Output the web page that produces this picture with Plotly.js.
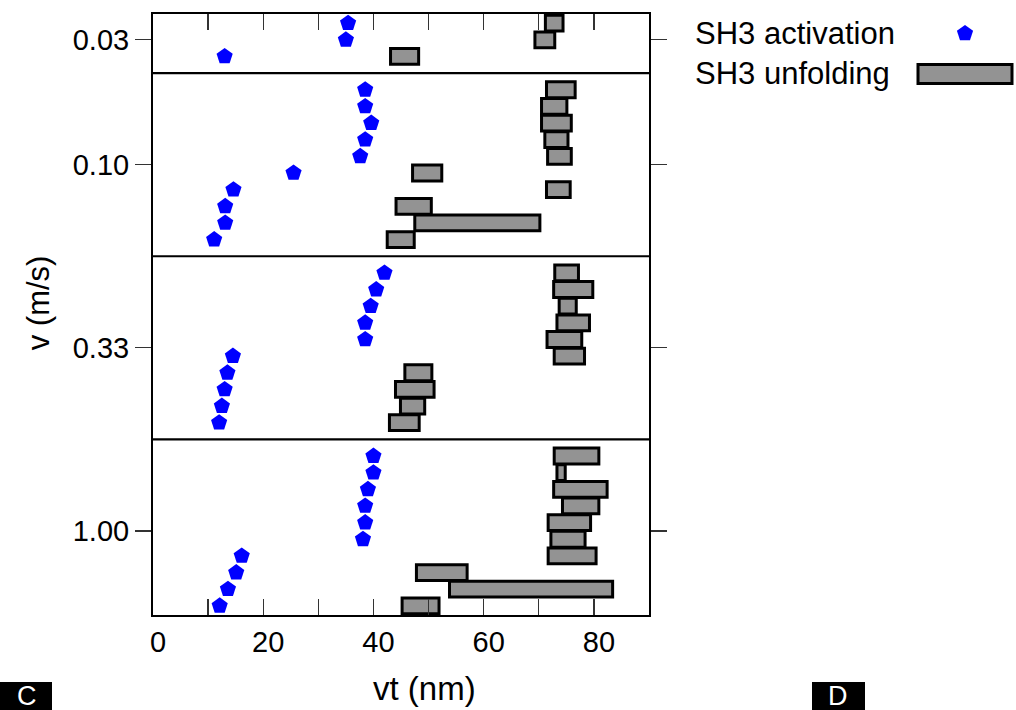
<!DOCTYPE html>
<html><head><meta charset="utf-8">
<script src="https://cdn.plot.ly/plotly-3.0.1.min.js"></script>
<style>html,body{margin:0;padding:0;background:#fff}</style>
</head><body>
<div id="chart" style="width:1016px;height:710px"></div>
<script>
// velocity groups, listed top panel to bottom panel
const velocities = ['0.03', '0.10', '0.33', '1.00'];

// SH3 activation position vt (nm), rows listed top to bottom in each panel
const act003 = [35.4, 35.0, 13.0];
const act010 = [38.5, 38.5, 39.6, 38.5, 37.6, 25.5, 14.6, 13.1, 13.1, 11.1];
const act033 = [42.0, 40.5, 39.5, 38.5, 38.5, 14.5, 13.5, 13.0, 12.5, 12.0];
const act100 = [40.0, 40.0, 39.0, 38.5, 38.5, 38.1, 16.1, 15.1, 13.6, 12.1];

// SH3 unfolding interval (start, end) in vt (nm), same row order
const unfStart003 = [71.2, 69.3, 43.1];
const unfEnd003   = [74.4, 72.9, 48.2];
const unfStart010 = [71.4, 70.5, 70.5, 71.1, 71.6, 47.1, 71.4, 44.1, 47.5, 42.5];
const unfEnd010   = [76.6, 75.1, 75.9, 75.3, 75.9, 52.4, 75.7, 50.5, 70.2, 47.4];
const unfStart033 = [72.9, 72.7, 73.7, 73.3, 71.5, 72.8, 45.7, 44.0, 44.9, 42.9];
const unfEnd033   = [77.2, 79.8, 76.8, 79.2, 77.8, 78.3, 50.6, 51.0, 49.3, 48.3];
const unfStart100 = [72.8, 73.3, 72.7, 74.3, 71.7, 72.2, 71.7, 47.8, 53.8, 45.2];
const unfEnd100   = [80.9, 74.8, 82.4, 80.9, 79.4, 78.4, 80.4, 57.0, 83.4, 51.9];

const xTickVals = [0, 10, 20, 30, 40, 50, 60, 70, 80, 90];
const xTickText = ['0', '', '20', '', '40', '', '60', '', '80', ''];

// ---- layout of the stacked panels (row units) ----
const groups = [
  {act: act003, s: unfStart003, e: unfEnd003, base: 33.5, tick: 34.5},
  {act: act010, s: unfStart010, e: unfEnd010, base: 22.5, tick: 27},
  {act: act033, s: unfStart033, e: unfEnd033, base: 11.5, tick: 16},
  {act: act100, s: unfStart100, e: unfEnd100, base: 0.5, tick: 5}
];
const separators = [10.5, 21.5, 32.5];

let ax = [], ay = [], bx = [], bb = [], by = [];
groups.forEach(g => {
  const n = g.act.length;
  for (let i = 0; i < n; i++) {
    const row = g.base + (n - 1 - i);
    ax.push(g.act[i]); ay.push(row);
    bb.push(g.s[i]); bx.push(g.e[i] - g.s[i]); by.push(row);
  }
});

const FONT = '"Liberation Sans", Arial, sans-serif';
const GRAY = '#939393';

const traces = [
  {type: 'bar', orientation: 'h', name: 'SH3 unfolding', x: bx, base: bb, y: by, width: 0.95,
   marker: {color: GRAY, line: {color: '#000', width: 3}}, showlegend: false, hoverinfo: 'skip'},
  {type: 'scatter', mode: 'markers', name: 'SH3 activation', x: ax, y: ay,
   marker: {symbol: 'pentagon', size: 17, color: '#0000ff', line: {width: 0}}, showlegend: false}
];

// pixel -> paper helpers for the legend and panel tags
const L = 153, R = 649, T = 13.5, B = 615;
const px = x => (x - L) / (R - L);
const py = y => (B - y) / (B - T);

function pentPath(cx, cy, r) {
  const pts = [[0, -r], [0.951*r, -0.309*r], [0.588*r, 0.809*r], [-0.588*r, 0.809*r], [-0.951*r, -0.309*r]];
  return 'M' + pts.map(p => px(cx + p[0]).toFixed(5) + ',' + py(cy + p[1]).toFixed(5)).join(' L') + ' Z';
}

const shapes = separators.map(y => ({type: 'line', xref: 'paper', x0: 0, x1: 1, yref: 'y', y0: y, y1: y,
  line: {color: '#000', width: 2.2}, layer: 'above'}));
shapes.push({type: 'path', xref: 'paper', yref: 'paper', path: pentPath(965, 33, 8.5),
  fillcolor: '#0000ff', line: {width: 0}});
shapes.push({type: 'rect', xref: 'paper', yref: 'paper', x0: px(918), x1: px(1012), y0: py(64), y1: py(83),
  fillcolor: GRAY, line: {color: '#000', width: 3}});
shapes.push({type: 'rect', xref: 'paper', yref: 'paper', x0: px(0), x1: px(52), y0: py(682), y1: py(712),
  fillcolor: '#000', line: {width: 0}});
shapes.push({type: 'rect', xref: 'paper', yref: 'paper', x0: px(812), x1: px(865), y0: py(682), y1: py(712),
  fillcolor: '#000', line: {width: 0}});

const annotations = [
  {text: 'SH3 activation', xref: 'paper', yref: 'paper', x: px(693), y: py(33), xanchor: 'left', yanchor: 'middle',
   showarrow: false, font: {family: FONT, size: 31, color: '#000'}},
  {text: 'SH3 unfolding', xref: 'paper', yref: 'paper', x: px(693), y: py(73), xanchor: 'left', yanchor: 'middle',
   showarrow: false, font: {family: FONT, size: 31, color: '#000'}},
  {text: 'vt (nm)', xref: 'paper', yref: 'paper', x: px(424), y: py(689), xanchor: 'center', yanchor: 'middle',
   showarrow: false, font: {family: FONT, size: 33, color: '#000'}},
  {text: 'v (m/s)', xref: 'paper', yref: 'paper', x: px(38), y: py(303), xanchor: 'center', yanchor: 'middle',
   textangle: -90, showarrow: false, font: {family: FONT, size: 31, color: '#000'}},
  {text: 'C', xref: 'paper', yref: 'paper', x: px(27), y: py(696), xanchor: 'center', yanchor: 'middle',
   showarrow: false, font: {family: FONT, size: 27, color: '#fff'}},
  {text: 'D', xref: 'paper', yref: 'paper', x: px(838), y: py(696), xanchor: 'center', yanchor: 'middle',
   showarrow: false, font: {family: FONT, size: 27, color: '#fff'}}
];

const layout = {
  width: 1016, height: 710,
  margin: {l: L, r: 1016 - R, t: T, b: 710 - B},
  paper_bgcolor: '#fff', plot_bgcolor: '#fff',
  barmode: 'overlay',
  font: {family: FONT, color: '#000'},
  xaxis: {range: [0, 90], tickvals: xTickVals, ticktext: xTickText, ticks: 'inside', ticklen: 16,
    tickwidth: 1.3, tickcolor: '#333', showgrid: false, zeroline: false, showline: true, linecolor: '#000',
    linewidth: 2, mirror: 'ticks', tickfont: {family: FONT, size: 29, color: '#000'},
    ticklabelshift: 5, ticklabelstandoff: 0, fixedrange: true},
  yaxis: {range: [-0.05, 36.05], tickvals: groups.map(g => g.tick), ticktext: velocities,
    ticks: 'outside', ticklen: 16, tickwidth: 1.3, tickcolor: '#333', showgrid: false, zeroline: false,
    showline: true, linecolor: '#000', linewidth: 2, mirror: 'ticks',
    tickfont: {family: FONT, size: 29, color: '#000'}, ticklabelstandoff: 0, fixedrange: true},
  shapes: shapes,
  annotations: annotations,
  showlegend: false
};

Plotly.newPlot('chart', traces, layout, {displayModeBar: false, staticPlot: true});
</script>
</body></html>
